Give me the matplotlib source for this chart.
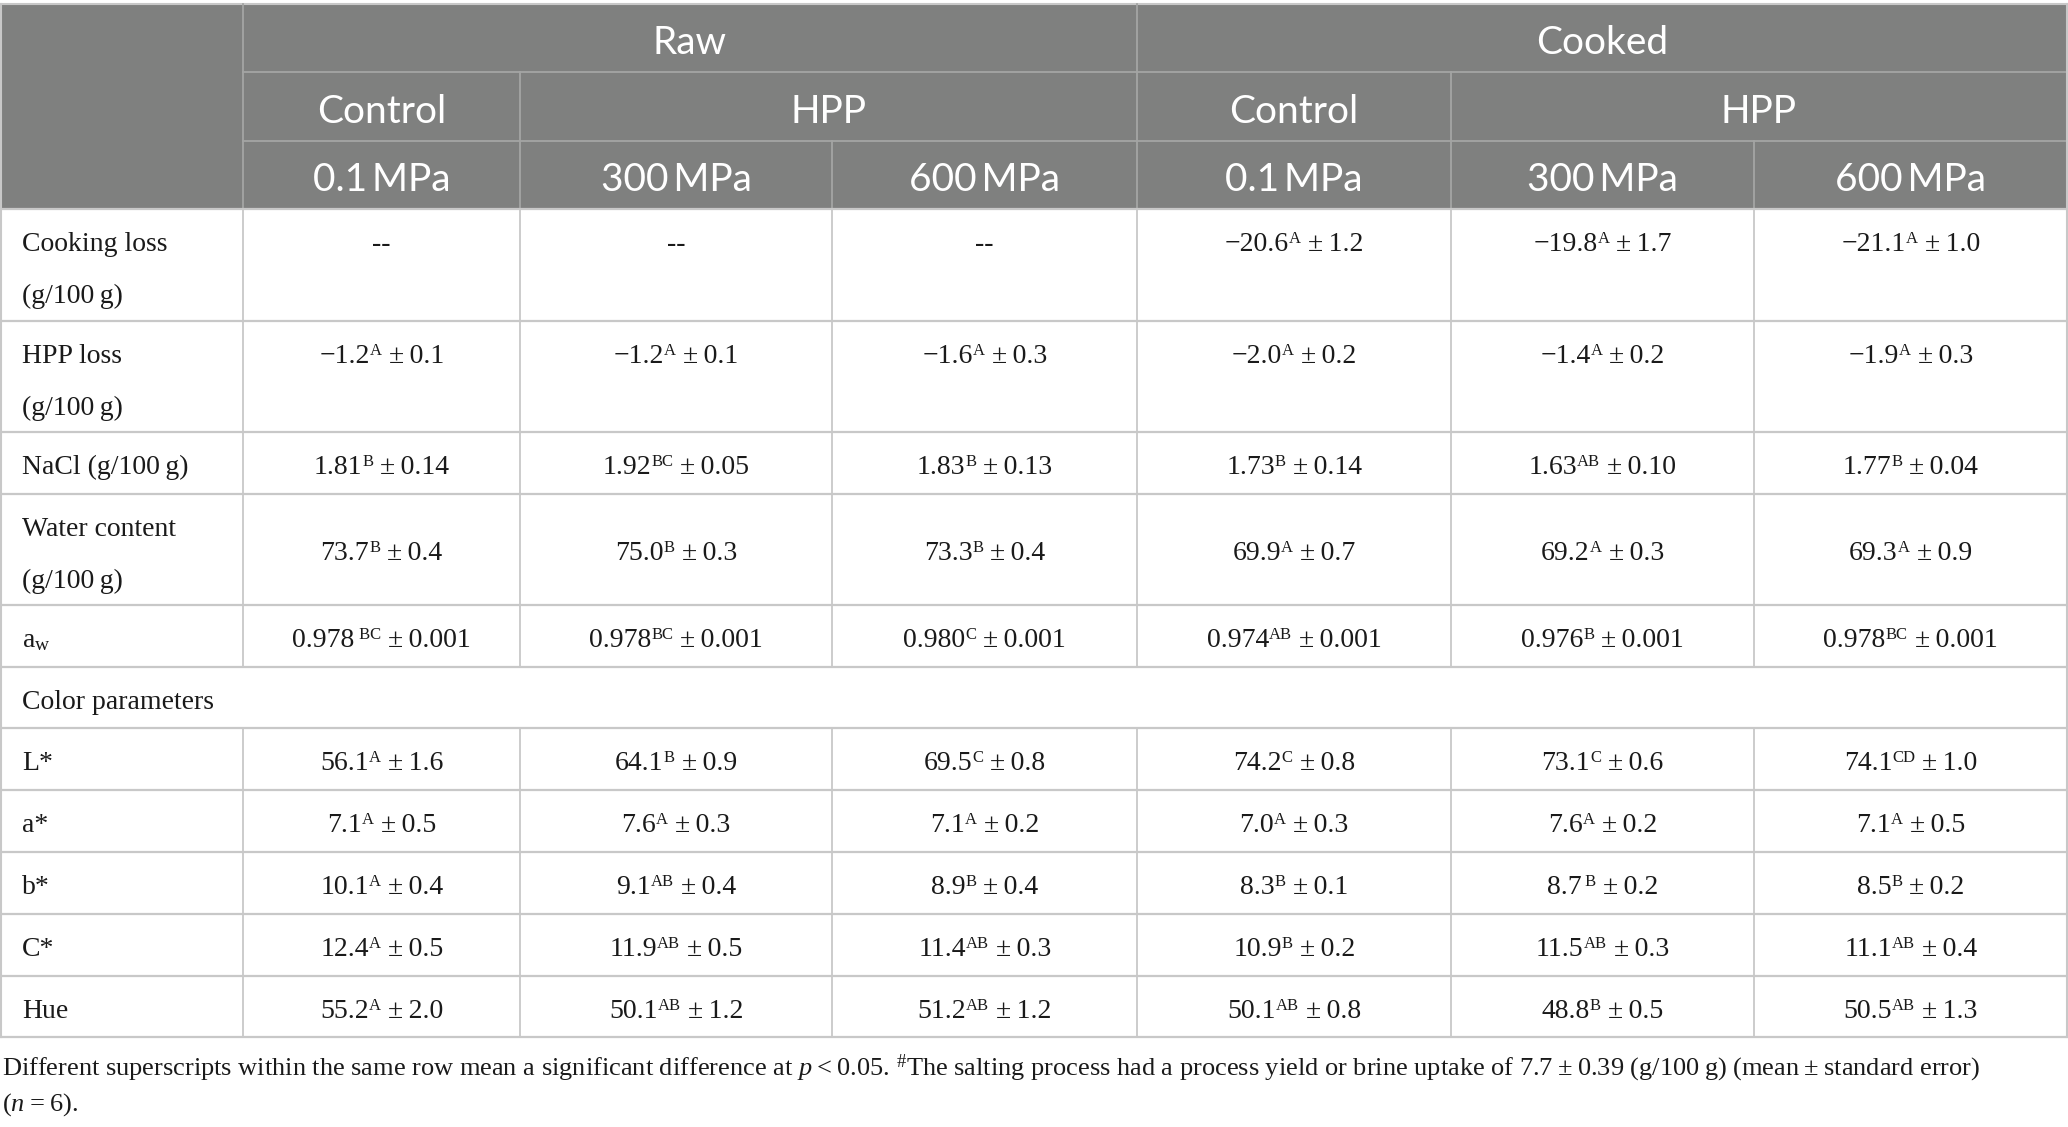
import matplotlib
matplotlib.use("Agg")
import matplotlib.pyplot as plt
from matplotlib.patches import Rectangle

plt.rcParams['mathtext.fontset'] = 'custom'
plt.rcParams['mathtext.rm'] = 'Liberation Serif'
plt.rcParams['mathtext.it'] = 'Liberation Serif:italic'
plt.rcParams['mathtext.bf'] = 'Liberation Serif:bold'

# ---------------- data ----------------
group_names = ["Raw", "Cooked"]
treatment_names = ["Control", "HPP", "Control", "HPP"]
pressure_labels = ["0.1\u2009MPa", "300\u2009MPa", "600\u2009MPa",
                   "0.1\u2009MPa", "300\u2009MPa", "600\u2009MPa"]

row_labels = [
    ["Cooking loss", "(g/100\u2009g)"],
    ["HPP loss", "(g/100\u2009g)"],
    ["NaCl (g/100\u2009g)"],
    ["Water content", "(g/100\u2009g)"],
    ["a$_{\\mathrm{w}}$"],
    ["Color parameters"],
    ["L*"],
    ["a*"],
    ["b*"],
    ["C*"],
    ["Hue"],
]

cooking_loss_mean = [None, None, None, -20.6, -19.8, -21.1]
cooking_loss_sig = [None, None, None, "A", "A", "A"]
cooking_loss_se = [None, None, None, 1.2, 1.7, 1.0]

hpp_loss_mean = [-1.2, -1.2, -1.6, -2.0, -1.4, -1.9]
hpp_loss_sig = ["A", "A", "A", "A", "A", "A"]
hpp_loss_se = [0.1, 0.1, 0.3, 0.2, 0.2, 0.3]

nacl_mean = [1.81, 1.92, 1.83, 1.73, 1.63, 1.77]
nacl_sig = ["B", "BC", "B", "B", "AB", "B"]
nacl_se = [0.14, 0.05, 0.13, 0.14, 0.10, 0.04]

water_mean = [73.7, 75.0, 73.3, 69.9, 69.2, 69.3]
water_sig = ["B", "B", "B", "A", "A", "A"]
water_se = [0.4, 0.3, 0.4, 0.7, 0.3, 0.9]

aw_mean = [0.978, 0.978, 0.980, 0.974, 0.976, 0.978]
aw_sig = [" BC", "BC", "C", "AB", "B", "BC"]
aw_se = [0.001, 0.001, 0.001, 0.001, 0.001, 0.001]

L_mean = [56.1, 64.1, 69.5, 74.2, 73.1, 74.1]
L_sig = ["A", "B", "C", "C", "C", "CD"]
L_se = [1.6, 0.9, 0.8, 0.8, 0.6, 1.0]

a_mean = [7.1, 7.6, 7.1, 7.0, 7.6, 7.1]
a_sig = ["A", "A", "A", "A", "A", "A"]
a_se = [0.5, 0.3, 0.2, 0.3, 0.2, 0.5]

b_mean = [10.1, 9.1, 8.9, 8.3, 8.7, 8.5]
b_sig = ["A", "AB", "B", "B", " B", "B"]
b_se = [0.4, 0.4, 0.4, 0.1, 0.2, 0.2]

C_mean = [12.4, 11.9, 11.4, 10.9, 11.5, 11.1]
C_sig = ["A", "AB", "AB", "B", "AB", "AB"]
C_se = [0.5, 0.5, 0.3, 0.2, 0.3, 0.4]

hue_mean = [55.2, 50.1, 51.2, 50.1, 48.8, 50.5]
hue_sig = ["A", "AB", "AB", "AB", "B", "AB"]
hue_se = [2.0, 1.2, 1.2, 0.8, 0.5, 1.3]

decimals = [1, 1, 2, 1, 3, None, 1, 1, 1, 1, 1]

footnote_1 = ("Different superscripts within the same row mean a significant difference at "
              "$p$\u2009<\u20090.05. $^{\\#}$The salting process had a process yield or brine uptake of "
              "7.7\u2009±\u20090.39 (g/100\u2009g) (mean\u2009±\u2009standard error)")
footnote_2 = "($n$\u2009=\u20096)."

# ---------------- layout ----------------
W, H = 2068, 1127
fig = plt.figure(figsize=(W / 100, H / 100), dpi=100)
ax = fig.add_axes([0, 0, 1, 1])
ax.set_xlim(0, W)
ax.set_ylim(H, 0)
ax.axis('off')
renderer = fig.canvas.get_renderer()

col_x = [0, 243, 520, 832, 1137, 1451, 1754, 2067]
hdr_y = [4, 72, 141, 209]
row_y = [209, 321, 432, 494, 605, 667, 728, 790, 852, 914, 976, 1037]
row_mode = ['top', 'top', 'one', 'center', 'one', 'span', 'one', 'one', 'one', 'one', 'one']

HDR_BG = '#7f807f'
HDR_LINE = '#a4a5a4'
BODY_LINE = '#c8c8c8'
TXT = '#1a1a1a'
sans = ['Lato', 'DejaVu Sans']
serif = ['Liberation Serif', 'DejaVu Serif']
HFS = 28
BFS = 20
SUP_FS = 12
SUP_RAISE = 8

# header background
ax.add_patch(Rectangle((0, hdr_y[0]), W - 1, hdr_y[3] - hdr_y[0], facecolor=HDR_BG,
                       edgecolor='none', zorder=0))
ax.plot([0, W - 1], [hdr_y[0], hdr_y[0]], color=BODY_LINE, lw=1.5, zorder=2)
for yy in hdr_y[1:3]:
    ax.plot([col_x[1], W - 1], [yy, yy], color=HDR_LINE, lw=1.3, zorder=2)
for xx in [col_x[1], col_x[4]]:
    ax.plot([xx, xx], [hdr_y[0], hdr_y[3]], color=HDR_LINE, lw=1.3, zorder=2)
for xx in [col_x[2], col_x[5]]:
    ax.plot([xx, xx], [hdr_y[1], hdr_y[3]], color=HDR_LINE, lw=1.3, zorder=2)
for xx in [col_x[3], col_x[6]]:
    ax.plot([xx, xx], [hdr_y[2], hdr_y[3]], color=HDR_LINE, lw=1.3, zorder=2)

group_spans = [(1, 4), (4, 7)]
treat_spans = [(1, 2), (2, 4), (4, 5), (5, 7)]
for name, (a0, a1) in zip(group_names, group_spans):
    ax.text((col_x[a0] + col_x[a1]) / 2, hdr_y[0] + 50, name, ha='center', va='baseline',
            color='white', fontsize=HFS, family=sans)
for name, (a0, a1) in zip(treatment_names, treat_spans):
    ax.text((col_x[a0] + col_x[a1]) / 2, hdr_y[1] + 51, name, ha='center', va='baseline',
            color='white', fontsize=HFS, family=sans)
for i, name in enumerate(pressure_labels):
    ax.text((col_x[i + 1] + col_x[i + 2]) / 2, hdr_y[2] + 50, name, ha='center', va='baseline',
            color='white', fontsize=HFS, family=sans)

# body lines
for yy in row_y:
    ax.plot([0, W - 1], [yy, yy], color=BODY_LINE, lw=1.6, zorder=2)
ax.plot([0.8, 0.8], [hdr_y[0], row_y[-1]], color=BODY_LINE, lw=1.5, zorder=2)
ax.plot([W - 1.5, W - 1.5], [hdr_y[0], row_y[-1]], color=BODY_LINE, lw=1.5, zorder=2)
for r in range(len(row_labels)):
    if row_mode[r] == 'span':
        continue
    for xx in col_x[1:-1]:
        ax.plot([xx, xx], [row_y[r], row_y[r + 1]], color=BODY_LINE, lw=1.3, zorder=2)

# body values
means = [cooking_loss_mean, hpp_loss_mean, nacl_mean, water_mean, aw_mean, None,
         L_mean, a_mean, b_mean, C_mean, hue_mean]
sigs = [cooking_loss_sig, hpp_loss_sig, nacl_sig, water_sig, aw_sig, None,
        L_sig, a_sig, b_sig, C_sig, hue_sig]
ses = [cooking_loss_se, hpp_loss_se, nacl_se, water_se, aw_se, None,
       L_se, a_se, b_se, C_se, hue_se]


def fmt(v, d):
    s = f"{abs(v):.{d}f}"
    return ("\u2212" + s) if v < 0 else s


def rich_center(xc, ybase, parts):
    """parts: list of (text, fontsize, raise_px); drawn left to right, centred on xc."""
    objs = []
    widths = []
    for s, fs, dy in parts:
        t = ax.text(0, ybase - dy, s, ha='left', va='baseline', fontsize=fs,
                    family=serif, color=TXT)
        bb = t.get_window_extent(renderer=renderer)
        objs.append(t)
        widths.append(bb.width)
    total = sum(widths)
    x = xc - total / 2
    for t, w in zip(objs, widths):
        t.set_x(x)
        x += w


LINE_GAP = 52
for r, labels in enumerate(row_labels):
    top, bot = row_y[r], row_y[r + 1]
    first_base = top + 42
    for k, lab in enumerate(labels):
        ax.text(22, first_base + k * LINE_GAP, lab, ha='left', va='baseline',
                fontsize=BFS, family=serif, color=TXT)
    if means[r] is None:
        continue
    if row_mode[r] == 'center':
        vbase = (top + bot) / 2 + 11
    else:
        vbase = first_base
    for c in range(6):
        xc = (col_x[c + 1] + col_x[c + 2]) / 2
        m = means[r][c]
        if m is None:
            ax.text(xc, vbase, "--", ha='center', va='baseline', fontsize=BFS,
                    family=serif, color=TXT)
            continue
        rich_center(xc, vbase, [
            (fmt(m, decimals[r]), BFS, 0),
            (sigs[r][c], SUP_FS, SUP_RAISE),
            (" ±\u2009" + fmt(ses[r][c], decimals[r]), BFS, 0),
        ])

# footnote
ax.text(2, 1075, footnote_1, ha='left', va='baseline', fontsize=19, family=serif, color=TXT)
ax.text(2, 1111, footnote_2, ha='left', va='baseline', fontsize=19, family=serif, color=TXT)

fig.savefig("out.png", dpi=100, facecolor='white')
